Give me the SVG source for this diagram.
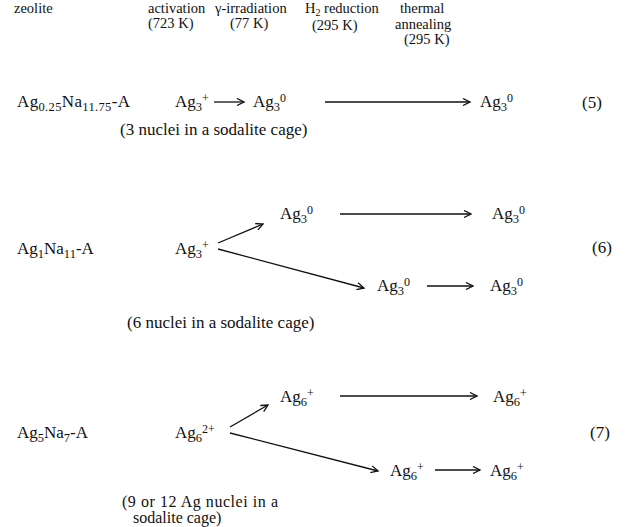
<svg xmlns="http://www.w3.org/2000/svg" width="631" height="527" viewBox="0 0 631 527">
<style>
text{font-family:"Liberation Serif","Times New Roman",serif;font-size:17px;fill:#111}
.hd{font-size:14.5px}
.hs{font-size:10px;baseline-shift:-2.5px}
.nt{font-size:16px}
.sub{font-size:12.5px;baseline-shift:-4px}
.sup{font-size:12px;baseline-shift:5px}
.eq{font-size:17px}
.ln{stroke:#111;stroke-width:1.3;fill:none}
</style>
<defs>
<marker id="ah" markerUnits="userSpaceOnUse" markerWidth="10" markerHeight="8" refX="8" refY="4" orient="auto">
<path d="M1,0.5 L8,4 L1,7.5" fill="none" stroke="#111" stroke-width="1.3"/>
</marker>
</defs>
<rect width="631" height="527" fill="#fff"/>
<g id="header">
<text class="hd" x="14" y="13">zeolite</text>
<text class="hd" x="148" y="13">activation</text>
<text class="hd" x="148" y="28">(723 K)</text>
<text class="hd" x="215" y="13">γ-irradiation</text>
<text class="hd" x="230" y="28">(77 K)</text>
<text class="hd" x="305" y="13">H<tspan class="hs">2</tspan> reduction</text>
<text class="hd" x="312" y="30">(295 K)</text>
<text class="hd" x="400" y="13">thermal</text>
<text class="hd" x="395" y="29">annealing</text>
<text class="hd" x="404" y="44">(295 K)</text>
</g>
<g id="row5">
<g id="r5-zeolite"><text x="17" y="107" textLength="113" lengthAdjust="spacing">Ag<tspan class="sub">0.25</tspan>Na<tspan class="sub">11.75</tspan>-A</text></g>
<g id="r5-act"><text x="175" y="107">Ag<tspan class="sub">3</tspan><tspan class="sup">+</tspan></text></g>
<g id="r5-gamma"><text x="253" y="107">Ag<tspan class="sub">3</tspan><tspan class="sup">0</tspan></text></g>
<g id="r5-anneal"><text x="480" y="107">Ag<tspan class="sub">3</tspan><tspan class="sup">0</tspan></text></g>
<g id="r5-eq"><text class="eq" x="582" y="108">(5)</text></g>
<g id="r5-note"><text x="120" y="135">(3 nuclei in a sodalite cage)</text></g>
</g>
<g id="row6">
<g id="r6-zeolite"><text x="17" y="254">Ag<tspan class="sub">1</tspan>Na<tspan class="sub">11</tspan>-A</text></g>
<g id="r6-act"><text x="175" y="254">Ag<tspan class="sub">3</tspan><tspan class="sup">+</tspan></text></g>
<g id="r6-gamma"><text x="280" y="219">Ag<tspan class="sub">3</tspan><tspan class="sup">0</tspan></text></g>
<g id="r6-anneal1"><text x="492" y="219">Ag<tspan class="sub">3</tspan><tspan class="sup">0</tspan></text></g>
<g id="r6-h2"><text x="377" y="291">Ag<tspan class="sub">3</tspan><tspan class="sup">0</tspan></text></g>
<g id="r6-anneal2"><text x="490" y="291">Ag<tspan class="sub">3</tspan><tspan class="sup">0</tspan></text></g>
<g id="r6-eq"><text class="eq" x="592" y="253">(6)</text></g>
<g id="r6-note"><text x="127" y="328">(6 nuclei in a sodalite cage)</text></g>
</g>
<g id="row7">
<g id="r7-zeolite"><text x="17" y="438">Ag<tspan class="sub">5</tspan>Na<tspan class="sub">7</tspan>-A</text></g>
<g id="r7-act"><text x="175" y="438">Ag<tspan class="sub">6</tspan><tspan class="sup">2+</tspan></text></g>
<g id="r7-gamma"><text x="280" y="402">Ag<tspan class="sub">6</tspan><tspan class="sup">+</tspan></text></g>
<g id="r7-anneal1"><text x="493" y="402">Ag<tspan class="sub">6</tspan><tspan class="sup">+</tspan></text></g>
<g id="r7-h2"><text x="390" y="476">Ag<tspan class="sub">6</tspan><tspan class="sup">+</tspan></text></g>
<g id="r7-anneal2"><text x="490" y="476">Ag<tspan class="sub">6</tspan><tspan class="sup">+</tspan></text></g>
<g id="r7-eq"><text class="eq" x="590" y="438">(7)</text></g>
<g id="r7-note"><text class="nt" x="122" y="507" textLength="156" lengthAdjust="spacing">(9 or 12 Ag nuclei in a</text><text class="nt" x="133" y="523">sodalite cage)</text></g>
</g>
<g id="connectors">
<line class="ln" x1="214" y1="102" x2="244" y2="102" marker-end="url(#ah)"/>
<line class="ln" x1="325" y1="102" x2="470" y2="102" marker-end="url(#ah)"/>
<line class="ln" x1="218" y1="243" x2="263" y2="224" marker-end="url(#ah)"/>
<line class="ln" x1="340" y1="214" x2="471" y2="214" marker-end="url(#ah)"/>
<line class="ln" x1="218" y1="249" x2="364" y2="288" marker-end="url(#ah)"/>
<line class="ln" x1="427" y1="286" x2="473" y2="286" marker-end="url(#ah)"/>
<line class="ln" x1="230" y1="427" x2="268" y2="405" marker-end="url(#ah)"/>
<line class="ln" x1="340" y1="396" x2="477" y2="396" marker-end="url(#ah)"/>
<line class="ln" x1="230" y1="433" x2="378" y2="471" marker-end="url(#ah)"/>
<line class="ln" x1="435" y1="470" x2="480" y2="470" marker-end="url(#ah)"/>
</g>
</svg>
